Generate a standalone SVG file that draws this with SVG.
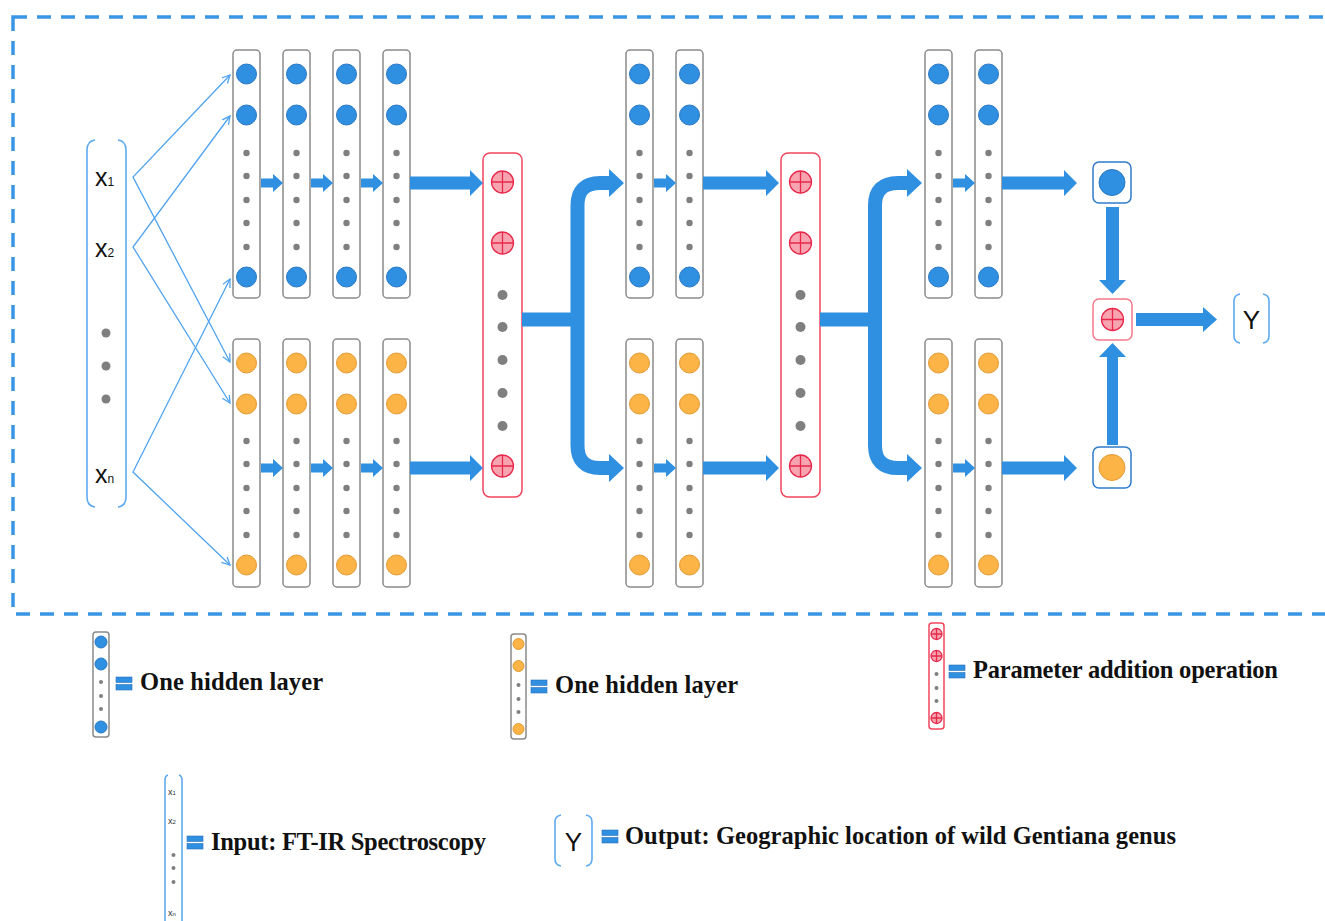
<svg xmlns="http://www.w3.org/2000/svg" width="1325" height="921" viewBox="0 0 1325 921">
  <style>
    .frame { fill: none; stroke: #3a95e4; stroke-width: 3.5; stroke-dasharray: 14 10; }
    .col { fill: #fff; stroke: #8a8a8a; stroke-width: 1.5; }
    .nb { fill: #2f8fe0; stroke: #2a78c4; stroke-width: 1; }
    .no { fill: #fbb445; stroke: #e39a34; stroke-width: 1; }
    .dot { fill: #7f7f7f; }
    .rcol { fill: #fff; stroke: #f2455d; stroke-width: 1.5; }
    .pc { fill: #f7a3b0; stroke: #e8284a; stroke-width: 1.3; }
    .pl { stroke: #e8284a; stroke-width: 1.3; fill: none; }
    .arrow { fill: #2f8fe0; }
    .flow { fill: none; stroke: #2f8fe0; stroke-width: 14; }
    .inl { fill: none; stroke: #4fa3f0; stroke-width: 1.3; }
    .brk { fill: none; stroke: #5eaaf0; stroke-width: 1.6; }
    .obox { fill: #fff; stroke: #2f7ccc; stroke-width: 1.5; }
    .rbox { fill: #fff; stroke: #f47a8a; stroke-width: 1.5; }
    .xin { font-family: "Liberation Sans", Arial, sans-serif; font-size: 25px; fill: #111; }
    .sub { font-size: 12px; }
    .ytxt { font-family: "Liberation Sans", Arial, sans-serif; font-size: 26px; fill: #111; text-anchor: middle; }
    .leg { font-family: "Liberation Serif", "Times New Roman", serif; font-weight: bold; font-size: 24.5px; fill: #111; }
    .eq { fill: #2f8fe0; stroke: #2a70b8; stroke-width: 0.6; }
    .mini { font-family: "Liberation Sans", Arial, sans-serif; font-size: 9px; fill: #333; }
  </style>
  <defs>
    <marker id="chev" markerWidth="10" markerHeight="10" refX="8" refY="4" orient="auto-start-reverse" markerUnits="userSpaceOnUse">
      <path d="M0,0 L8,4 L0,8" fill="none" stroke="#4fa3f0" stroke-width="1.3"/>
    </marker>
    <!-- hidden layer column, blue nodes -->
    <g id="colB">
      <rect class="col" x="-13.5" y="0" width="27" height="248" rx="4"/>
      <circle class="nb" cx="0" cy="24" r="10"/>
      <circle class="nb" cx="0" cy="65" r="10"/>
      <circle class="dot" cx="0" cy="103" r="3.2"/>
      <circle class="dot" cx="0" cy="126" r="3.2"/>
      <circle class="dot" cx="0" cy="150" r="3.2"/>
      <circle class="dot" cx="0" cy="173" r="3.2"/>
      <circle class="dot" cx="0" cy="197" r="3.2"/>
      <circle class="nb" cx="0" cy="227" r="10"/>
    </g>
    <!-- hidden layer column, orange nodes -->
    <g id="colO">
      <rect class="col" x="-13.5" y="0" width="27" height="248" rx="4"/>
      <circle class="no" cx="0" cy="24" r="10"/>
      <circle class="no" cx="0" cy="65" r="10"/>
      <circle class="dot" cx="0" cy="102" r="3.2"/>
      <circle class="dot" cx="0" cy="125" r="3.2"/>
      <circle class="dot" cx="0" cy="149" r="3.2"/>
      <circle class="dot" cx="0" cy="172" r="3.2"/>
      <circle class="dot" cx="0" cy="196" r="3.2"/>
      <circle class="no" cx="0" cy="226" r="10"/>
    </g>
    <!-- addition node -->
    <g id="plus">
      <circle class="pc" cx="0" cy="0" r="11"/>
      <path class="pl" d="M-11,0H11M0,-11V11"/>
    </g>
    <g id="plusS">
      <circle class="pc" cx="0" cy="0" r="5.5"/>
      <path class="pl" d="M-5.5,0H5.5M0,-5.5V5.5" stroke-width="1"/>
    </g>
    <!-- addition column -->
    <g id="addCol">
      <rect class="rcol" x="-19.5" y="0" width="39" height="344" rx="7"/>
      <use href="#plus" x="0" y="29"/>
      <use href="#plus" x="0" y="90"/>
      <circle class="dot" cx="0" cy="142" r="5"/>
      <circle class="dot" cx="0" cy="174" r="5"/>
      <circle class="dot" cx="0" cy="207" r="5"/>
      <circle class="dot" cx="0" cy="240" r="5"/>
      <circle class="dot" cx="0" cy="273" r="5"/>
      <use href="#plus" x="0" y="313"/>
    </g>
    <!-- legend "equals" sign -->
    <g id="eqs">
      <rect class="eq" x="0" y="0" width="16" height="5.5"/>
      <rect class="eq" x="0" y="7.5" width="16" height="5.5"/>
    </g>
  </defs>

  <!-- dashed model boundary -->
  <rect class="frame" x="13" y="17" width="1330" height="597"/>

  <!-- input vector -->
  <g id="input">
    <path class="brk" d="M95,140 Q87,141 87,150 V497 Q87,506 95,507"/>
    <path class="brk" d="M118,140 Q126,141 126,150 V497 Q126,506 118,507"/>
    <text class="xin" x="95" y="186">x<tspan class="sub">1</tspan></text>
    <text class="xin" x="95" y="257">x<tspan class="sub">2</tspan></text>
    <circle class="dot" cx="106" cy="333" r="4.5"/>
    <circle class="dot" cx="106" cy="366" r="4.5"/>
    <circle class="dot" cx="106" cy="399" r="4.5"/>
    <text class="xin" x="95" y="483">x<tspan class="sub">n</tspan></text>
  </g>

  <!-- first block: four hidden layers per branch -->
  <g id="block1-blue">
    <use href="#colB" x="246.5" y="50"/>
    <use href="#colB" x="296.5" y="50"/>
    <use href="#colB" x="346.5" y="50"/>
    <use href="#colB" x="396.5" y="50"/>
  </g>
  <g id="block1-orange">
    <use href="#colO" x="246.5" y="339"/>
    <use href="#colO" x="296.5" y="339"/>
    <use href="#colO" x="346.5" y="339"/>
    <use href="#colO" x="396.5" y="339"/>
  </g>
  <g id="add1"><use href="#addCol" x="502.5" y="153"/></g>

  <!-- second block -->
  <g id="block2-blue">
    <use href="#colB" x="639.5" y="50"/>
    <use href="#colB" x="689.5" y="50"/>
  </g>
  <g id="block2-orange">
    <use href="#colO" x="639.5" y="339"/>
    <use href="#colO" x="689.5" y="339"/>
  </g>
  <g id="add2"><use href="#addCol" x="800.5" y="153"/></g>

  <!-- third block -->
  <g id="block3-blue">
    <use href="#colB" x="938.5" y="50"/>
    <use href="#colB" x="988.5" y="50"/>
  </g>
  <g id="block3-orange">
    <use href="#colO" x="938.5" y="339"/>
    <use href="#colO" x="988.5" y="339"/>
  </g>

  <!-- branch outputs and final sum -->
  <g id="out-blue">
    <rect class="obox" x="1093" y="162" width="38" height="41" rx="6"/>
    <circle class="nb" cx="1112" cy="182.5" r="13"/>
  </g>
  <g id="out-orange">
    <rect class="obox" x="1093" y="447" width="38" height="41" rx="6"/>
    <circle class="no" cx="1112" cy="467.5" r="13"/>
  </g>
  <g id="out-sum">
    <rect class="rbox" x="1093" y="299" width="39" height="41" rx="6"/>
    <use href="#plus" x="1112.5" y="319.5"/>
  </g>
  <g id="output">
    <path class="brk" d="M1240,294 Q1234,295 1234,301 V336 Q1234,342 1240,343"/>
    <path class="brk" d="M1263,294 Q1269,295 1269,301 V336 Q1269,342 1263,343"/>
    <text class="ytxt" x="1251.5" y="329">Y</text>
  </g>

  <!-- connectors -->
  <g id="connectors">
    <!-- input fan-out -->
    <polyline class="inl" points="230,75 133,177 230,362" marker-start="url(#chev)" marker-end="url(#chev)"/>
    <polyline class="inl" points="230,116 133,247 230,403" marker-start="url(#chev)" marker-end="url(#chev)"/>
    <polyline class="inl" points="230,279 133,472 230,565" marker-start="url(#chev)" marker-end="url(#chev)"/>

    <!-- layer-to-layer arrows, block 1 -->
    <polygon class="arrow" points="261,178.5 273,178.5 273,174 283,183 273,192 273,187.5 261,187.5"/>
    <polygon class="arrow" points="311,178.5 323,178.5 323,174 333,183 323,192 323,187.5 311,187.5"/>
    <polygon class="arrow" points="361,178.5 373,178.5 373,174 383,183 373,192 373,187.5 361,187.5"/>
    <polygon class="arrow" points="261,463.5 273,463.5 273,459 283,468 273,477 273,472.5 261,472.5"/>
    <polygon class="arrow" points="311,463.5 323,463.5 323,459 333,468 323,477 323,472.5 311,472.5"/>
    <polygon class="arrow" points="361,463.5 373,463.5 373,459 383,468 373,477 373,472.5 361,472.5"/>
    <polygon class="arrow" points="410,176.5 470,176.5 470,170 483,183 470,196 470,189.5 410,189.5"/>
    <polygon class="arrow" points="410,461.5 470,461.5 470,455 483,468 470,481 470,474.5 410,474.5"/>

    <!-- split after first sum -->
    <path class="flow" d="M522,319.5 H584"/>
    <path class="flow" d="M611,183 H600 Q577.5,183 577.5,205.5 V445.5 Q577.5,468 600,468 H611"/>
    <polygon class="arrow" points="609,169 624,183 609,197"/>
    <polygon class="arrow" points="609,454 624,468 609,482"/>

    <!-- block 2 -->
    <polygon class="arrow" points="654,178.5 666,178.5 666,174 676,183 666,192 666,187.5 654,187.5"/>
    <polygon class="arrow" points="654,463.5 666,463.5 666,459 676,468 666,477 666,472.5 654,472.5"/>
    <polygon class="arrow" points="703,176.5 766,176.5 766,170 779,183 766,196 766,189.5 703,189.5"/>
    <polygon class="arrow" points="703,461.5 766,461.5 766,455 779,468 766,481 766,474.5 703,474.5"/>

    <!-- split after second sum -->
    <path class="flow" d="M820,319.5 H882"/>
    <path class="flow" d="M909,183 H898 Q875,183 875,205.5 V445.5 Q875,468 898,468 H909"/>
    <polygon class="arrow" points="907,169 922,183 907,197"/>
    <polygon class="arrow" points="907,454 922,468 907,482"/>

    <!-- block 3 -->
    <polygon class="arrow" points="953,178.5 965,178.5 965,174 975,183 965,192 965,187.5 953,187.5"/>
    <polygon class="arrow" points="953,463.5 965,463.5 965,459 975,468 965,477 965,472.5 953,472.5"/>
    <polygon class="arrow" points="1002,176.5 1064,176.5 1064,170 1077,183 1064,196 1064,189.5 1002,189.5"/>
    <polygon class="arrow" points="1002,461.5 1064,461.5 1064,455 1077,468 1064,481 1064,474.5 1002,474.5"/>

    <!-- branch outputs into the final sum -->
    <polygon class="arrow" points="1106,207 1119,207 1119,280 1126,280 1112.5,294 1099,280 1106,280"/>
    <polygon class="arrow" points="1107,445 1118,445 1118,357 1126,357 1112.5,343 1099,357 1107,357"/>
    <polygon class="arrow" points="1136,313 1203,313 1203,307 1217,319.5 1203,332 1203,326 1136,326"/>
  </g>

  <!-- legend -->
  <g id="legend-blue">
    <rect class="col" x="93" y="632" width="16" height="105" rx="3"/>
    <circle class="nb" cx="101" cy="642" r="6"/>
    <circle class="nb" cx="101" cy="664" r="6"/>
    <circle class="dot" cx="101" cy="682" r="2"/>
    <circle class="dot" cx="101" cy="696" r="2"/>
    <circle class="dot" cx="101" cy="709" r="2"/>
    <circle class="nb" cx="101" cy="727" r="6"/>
    <use href="#eqs" x="116" y="677"/>
    <text class="leg" x="140" y="690" textLength="183">One hidden layer</text>
  </g>
  <g id="legend-orange">
    <rect class="col" x="511" y="634" width="15" height="105" rx="3"/>
    <circle class="no" cx="518.5" cy="644" r="5.5"/>
    <circle class="no" cx="518.5" cy="666" r="5.5"/>
    <circle class="dot" cx="518.5" cy="685" r="2"/>
    <circle class="dot" cx="518.5" cy="699" r="2"/>
    <circle class="dot" cx="518.5" cy="712" r="2"/>
    <circle class="no" cx="518.5" cy="729" r="5.5"/>
    <use href="#eqs" x="531" y="680"/>
    <text class="leg" x="555" y="693" textLength="183">One hidden layer</text>
  </g>
  <g id="legend-add">
    <rect class="rcol" x="929" y="623" width="15" height="106" rx="3"/>
    <use href="#plusS" x="936.5" y="634"/>
    <use href="#plusS" x="936.5" y="656"/>
    <circle class="dot" cx="936.5" cy="674" r="2"/>
    <circle class="dot" cx="936.5" cy="688" r="2"/>
    <circle class="dot" cx="936.5" cy="701" r="2"/>
    <use href="#plusS" x="936.5" y="718"/>
    <use href="#eqs" x="949" y="665"/>
    <text class="leg" x="973" y="678" textLength="305">Parameter addition operation</text>
  </g>
  <g id="legend-input">
    <path class="brk" d="M168,775 Q165,776 165,780 V925"/>
    <path class="brk" d="M179,775 Q182,776 182,780 V925"/>
    <text class="mini" x="168" y="795">x<tspan font-size="6">1</tspan></text>
    <text class="mini" x="168" y="824">x<tspan font-size="6">2</tspan></text>
    <circle class="dot" cx="173.5" cy="855" r="2"/>
    <circle class="dot" cx="173.5" cy="868" r="2"/>
    <circle class="dot" cx="173.5" cy="882" r="2"/>
    <text class="mini" x="168" y="916">x<tspan font-size="6">n</tspan></text>
    <use href="#eqs" x="187" y="836"/>
    <text class="leg" x="211" y="850" textLength="275">Input: FT-IR Spectroscopy</text>
  </g>
  <g id="legend-output">
    <path class="brk" d="M561,815 Q555,816 555,822 V859 Q555,865 561,866"/>
    <path class="brk" d="M586,815 Q592,816 592,822 V859 Q592,865 586,866"/>
    <text class="ytxt" x="573.5" y="851">Y</text>
    <use href="#eqs" x="602" y="830"/>
    <text class="leg" x="625" y="844" textLength="551">Output: Geographic location of wild Gentiana genus</text>
  </g>
</svg>
